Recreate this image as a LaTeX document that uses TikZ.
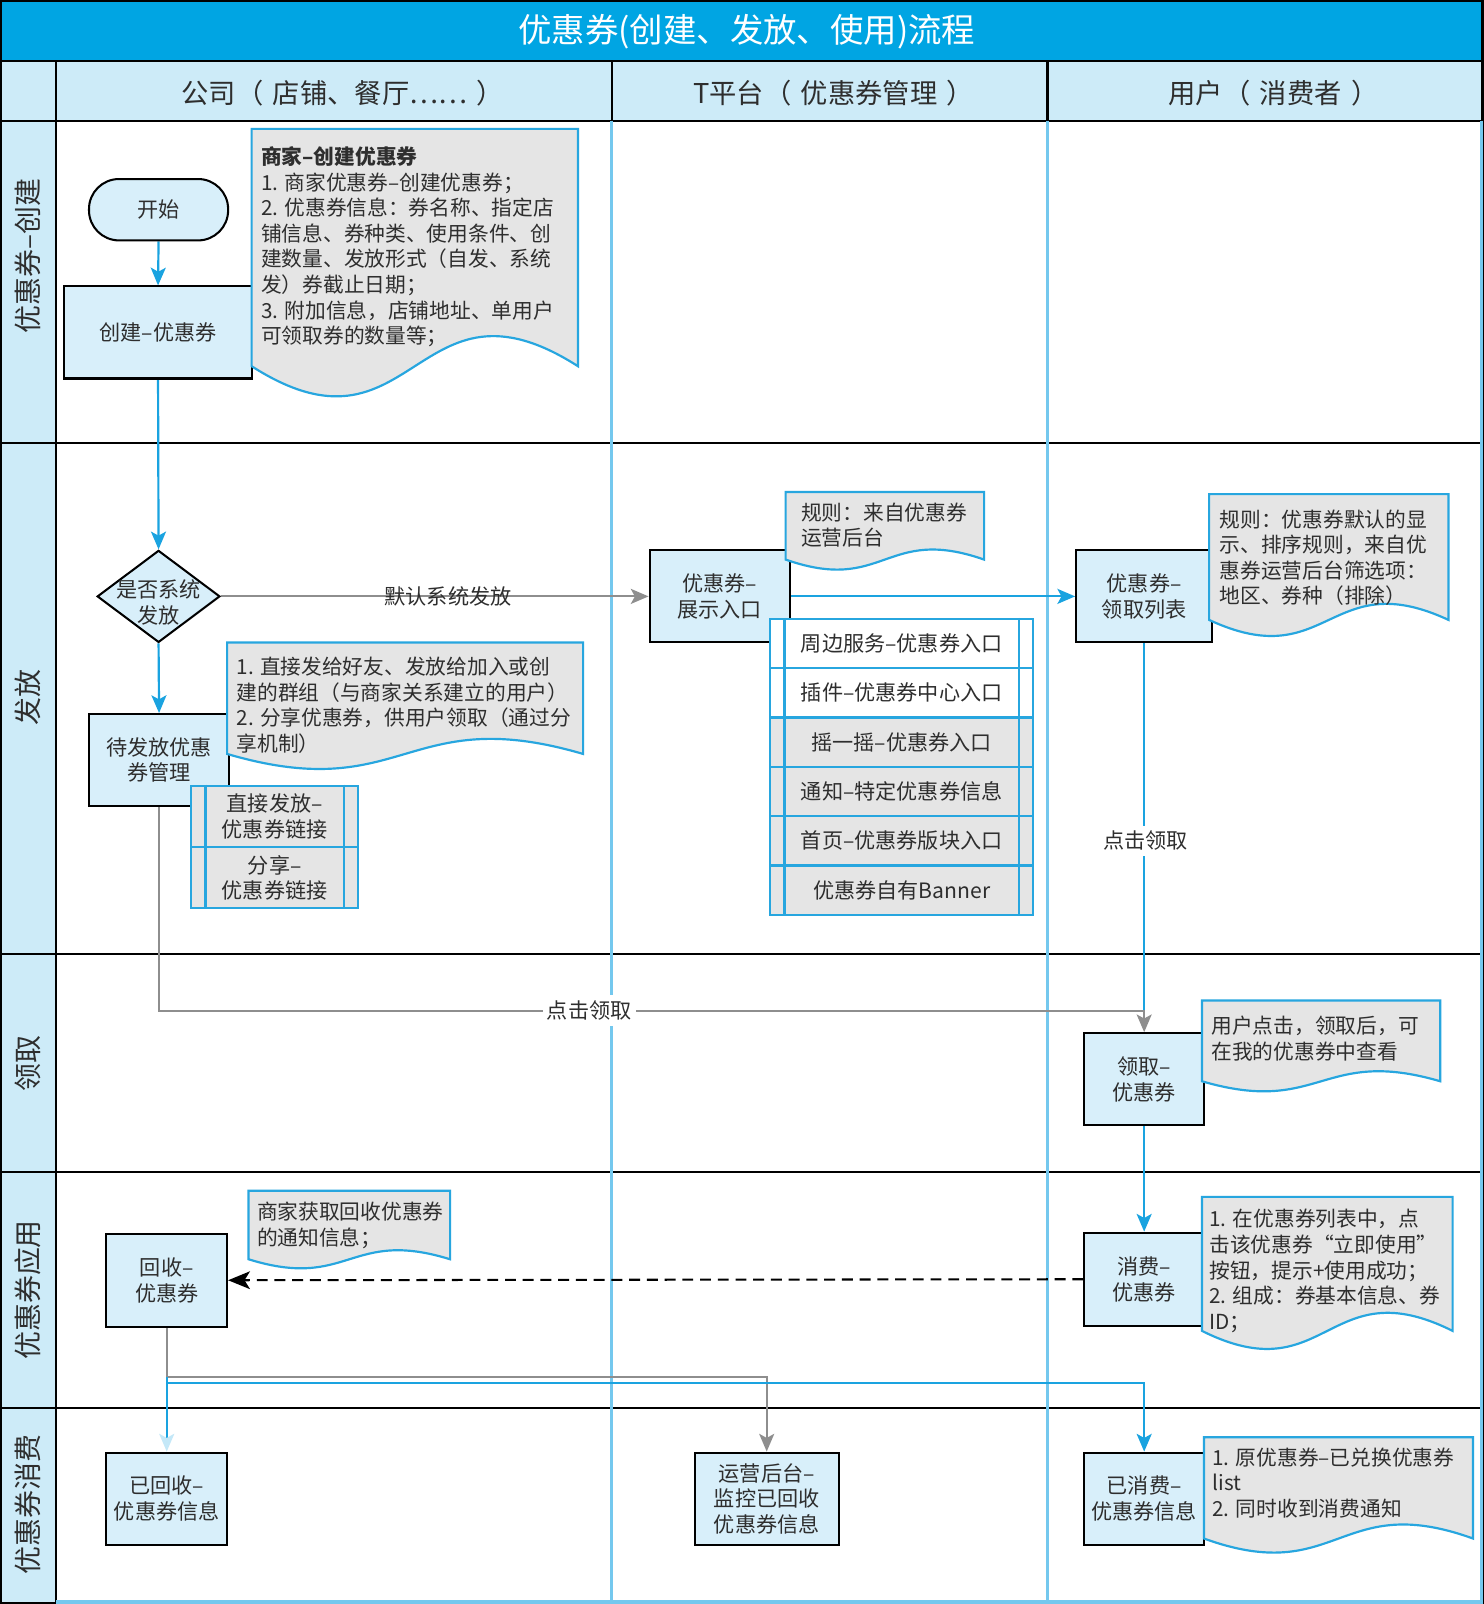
\documentclass[tikz,border=0pt]{standalone}
\usepackage{fontspec}
\setmainfont{Noto Sans CJK SC}
\usetikzlibrary{arrows.meta,shapes.geometric}
\definecolor{titleblue}{HTML}{00A5E3}
\definecolor{headfill}{HTML}{CDEBF8}
\definecolor{boxfill}{HTML}{D8EFFA}
\definecolor{notefill}{HTML}{E5E5E5}
\definecolor{noteline}{HTML}{27A6DF}
\definecolor{arrblue}{HTML}{1AA3E0}
\definecolor{sepblue}{HTML}{74C8EE}
\definecolor{graycon}{HTML}{8E8E8E}
\definecolor{txt}{HTML}{2E2E2E}
\definecolor{paleblue}{HTML}{C4E8F8}
\pgfdeclarelayer{gridlayer}
\pgfdeclarelayer{connlayer}
\pgfsetlayers{gridlayer,connlayer,main}
\newcommand\drawdoc[5]{\path[notepath] (#1,#2) -- (#3,#2) -- (#3,#4) .. controls ({(#1+#3)/2},{#4-3.4*#5}) and ({(#1+#3)/2},{#4+3.4*#5}) .. (#1,#4) -- cycle;}
\newcommand\lpar{（\hspace{0.35em}}
\newcommand\rpar{\hspace{0.35em}）}
\tikzset{
  every node/.style={text=txt, font=\fontsize{15.5}{18.75}\selectfont, inner sep=0pt},
  wh/.style 2 args={minimum width=#1*0.75pt, minimum height=#2*0.75pt},
  box/.style={rectangle, draw=black, line width=1.5pt, fill=boxfill, align=center},
  term/.style={box, rounded corners=22pt},
  dia/.style={diamond, draw=black, line width=1.5pt, fill=boxfill},
  notetext/.style={align=left, anchor=north west, font=\fontsize{15.2}{18.75}\selectfont},
  notepath/.style={draw=noteline, fill=notefill, line width=1.6pt},
  cell/.style={rectangle, draw=noteline, line width=1.6pt, align=center},
  tip/.style={-{Stealth[length=13pt,width=11pt,inset=3pt]}},
  bluearr/.style={draw=arrblue, line width=1.6pt, tip},
  grayarr/.style={draw=graycon, line width=1.5pt, tip},
  blueline/.style={draw=arrblue, line width=1.6pt},
  grayline/.style={draw=graycon, line width=1.5pt},
  lbl/.style={fill=white, inner xsep=3pt, inner ysep=4pt},
  rowlab/.style={rotate=90, font=\fontsize{20.5}{24}\selectfont},
  headlab/.style={font=\fontsize{20}{24}\selectfont},
  seprule/.style={draw=sepblue, line width=2.5pt},
  blackrule/.style={draw=black, line width=1.5pt},
}
\begin{document}
\begin{tikzpicture}[x=0.75pt, y=-0.75pt]
\useasboundingbox (0,0) rectangle (1450,1568);
% ---------- grid ----------
\begin{pgfonlayer}{gridlayer}
  \fill[white] (0,0) rectangle (1450,1568);
  \fill[titleblue] (0,0) rectangle (1450,60);
  \fill[headfill] (0,60) rectangle (1450,118);
  \fill[headfill] (0,118) rectangle (55,1568);
  \draw[black, line width=2pt] (1,1) rectangle (1449,1567);
  \foreach \yy in {60,118,433,933,1146,1376} \draw[blackrule] (0,\yy) -- (1450,\yy);
  \draw[blackrule] (55,60) -- (55,1568);
  \draw[blackrule] (598,60) -- (598,118);
  \draw[blackrule] (1024,60) -- (1024,118);
  \draw[seprule] (598,118) -- (598,1568);
  \draw[seprule] (1024,118) -- (1024,1568);
  \draw[seprule] (1448,118) -- (1448,1566) -- (55,1566);
\end{pgfonlayer}
% ---------- titles ----------
\node[text=white, font=\fontsize{24.5}{28}\selectfont] (title) at (730,31) {优惠券(创建、发放、使用)流程};
\node[headlab] (h1) at (335,91) {公司\lpar 店铺、餐厅……\rpar};
\node[headlab] (h2) at (815,91) {T平台\lpar 优惠券管理\rpar};
\node[headlab] (h3) at (1245,91) {用户\lpar 消费者\rpar};
\node[rowlab] (r1) at (27,250) {优惠券–创建};
\node[rowlab] (r2) at (27,682) {发放};
\node[rowlab] (r3) at (27,1040) {领取};
\node[rowlab] (r4) at (27,1261) {优惠券应用};
\node[rowlab] (r5) at (27,1471) {优惠券消费};
% ---------- boxes ----------
\node[term, wh={136}{60}] (start) at (155,205) {开始};
\node[box, wh={183}{90}] (create) at (154.5,325) {创建–优惠券};
\node[dia, wh={120}{90}] (dec) at (155,583) {};
\node[align=center] (dectext) at (155,589) {是否系统\\发放};
\node[box, wh={137}{90}] (pend) at (155.5,743) {待发放优惠\\券管理};
\node[box, wh={137}{90}] (show) at (703.5,583) {优惠券–\\展示入口};
\node[box, wh={133}{90}] (list) at (1118.5,583) {优惠券–\\领取列表};
\node[box, wh={117}{90}] (recv) at (1118.5,1055) {领取–\\优惠券};
\node[box, wh={117}{91}] (use) at (1118.5,1250.5) {消费–\\优惠券};
\node[box, wh={118}{91}] (back) at (163,1251.5) {回收–\\优惠券};
\node[box, wh={118}{90}] (backed) at (163,1465) {已回收–\\优惠券信息};
\node[box, wh={141}{90}] (ops) at (749.5,1465) {运营后台–\\监控已回收\\优惠券信息};
\node[box, wh={117}{90}] (done) at (1118.5,1465) {已消费–\\优惠券信息};
% ---------- notes ----------
\drawdoc{246}{126}{565}{358}{30}
\node[notetext] (nA) at (255,143) {\textbf{商家–创建优惠券}\\1. 商家优惠券–创建优惠券；\\2. 优惠券信息：券名称、指定店\\铺信息、券种类、使用条件、创\\建数量、发放形式（自发、系统\\发）券截止日期；\\3. 附加信息，店铺地址、单用户\\可领取券的数量等；};
\drawdoc{222}{628}{570}{737}{15}
\node[notetext] (nB) at (231,642) {1. 直接发给好友、发放给加入或创\\建的群组（与商家关系建立的用户）\\2. 分享优惠券，供用户领取（通过分\\享机制）};
\drawdoc{768}{481}{962}{547}{10}
\node[notetext] (nC) at (783,491) {规则：来自优惠券\\运营后台};
\drawdoc{1182}{483}{1416}{606}{16}
\node[notetext] (nD) at (1192,498) {规则：优惠券默认的显\\示、排序规则，来自优\\惠券运营后台筛选项：\\地区、券种（排除）};
\drawdoc{1175}{978}{1408}{1057}{10}
\node[notetext] (nE) at (1184,993) {用户点击，领取后，可\\在我的优惠券中查看};
\drawdoc{1175}{1170}{1420}{1301}{18}
\node[notetext] (nF) at (1182,1182) {1. 在优惠券列表中，点\\击该优惠券“立即使用”\\按钮，提示+使用成功；\\2. 组成：券基本信息、券\\ID；};
\drawdoc{243}{1164}{440}{1231}{9}
\node[notetext] (nG) at (251,1175) {商家获取回收优惠券\\的通知信息；};
\drawdoc{1177}{1405}{1440}{1504}{14}
\node[notetext] (nH) at (1185,1415) {1. 原优惠券–已兑换优惠券\\list\\2. 同时收到消费通知};
% ---------- sub lists ----------
\node[cell, fill=notefill, wh={163}{60}] (s1) at (268.5,798) {直接发放–\\优惠券链接};
\node[cell, fill=notefill, wh={163}{60}] (s2) at (268.5,858) {分享–\\优惠券链接};
\draw[noteline, line width=1.6pt] ([xshift=11.25pt]s1.north west) -- ([xshift=11.25pt]s2.south west);
\draw[noteline, line width=1.6pt] ([xshift=-11.25pt]s1.north east) -- ([xshift=-11.25pt]s2.south east);
\node[cell, fill=white, wh={257}{48.2}] (e1) at (881.5,629.1) {周边服务–优惠券入口};
\node[cell, fill=white, wh={257}{48.2}] (e2) at (881.5,677.3) {插件–优惠券中心入口};
\node[cell, fill=notefill, wh={257}{48.2}] (e3) at (881.5,725.5) {摇一摇–优惠券入口};
\node[cell, fill=notefill, wh={257}{48.2}] (e4) at (881.5,773.7) {通知–特定优惠券信息};
\node[cell, fill=notefill, wh={257}{48.2}] (e5) at (881.5,821.9) {首页–优惠券版块入口};
\node[cell, fill=notefill, wh={257}{48.2}] (e6) at (881.5,870.1) {优惠券自有Banner};
\draw[noteline, line width=1.6pt] ([xshift=11.25pt]e1.north west) -- ([xshift=11.25pt]e6.south west);
\draw[noteline, line width=1.6pt] ([xshift=-11.25pt]e1.north east) -- ([xshift=-11.25pt]e6.south east);
% ---------- connectors ----------
\coordinate (j2) at (1118.5,988);
\coordinate (k1) at (163,1346);
\coordinate (m1) at (163,1352);
\begin{pgfonlayer}{connlayer}
  \draw[bluearr] (start.south) -- (create.north);
  \draw[bluearr] (create.south) -- (dec.north);
  \draw[grayarr] (dec.east) -- (show.west);
  \node (lbl1) at (438,583) {默认系统发放};
  \draw[bluearr] (dec.south) -- (pend.north);
  \draw[bluearr] (show.east) -- (list.west);
  \draw[blueline] (list.south) -- (j2);
  \node[lbl] (lbl3) at (1120,822) {点击领取};
  \draw[grayarr] (pend.south) |- (j2) -- (recv.north);
  \node[lbl] (lbl2) at (576,988) {点击领取};
  \draw[bluearr] (recv.south) -- (use.north);
  \draw[black, line width=1.5pt, dash pattern=on 8pt off 5pt, -{Stealth[length=16pt,width=13pt,inset=4pt]}] (use.west) -- (back.east);
  \draw[grayline] (back.south) -- (k1);
  \draw[grayarr] (k1) -| (ops.north);
  \draw[bluearr] (m1) -| (done.north);
  \draw[blueline, -{Stealth[length=13pt,width=11pt,inset=3pt,color=paleblue]}] (k1) -- (backed.north);
\end{pgfonlayer}
\end{tikzpicture}
\end{document}
